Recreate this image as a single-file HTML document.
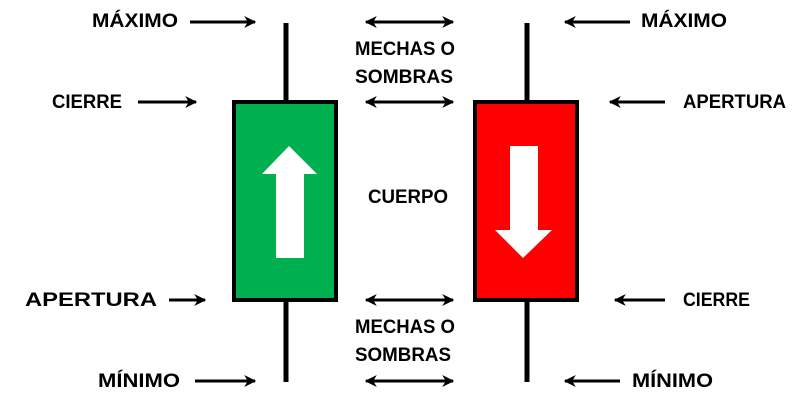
<!DOCTYPE html>
<html><head><meta charset="utf-8"><style>html,body{margin:0;padding:0;background:#fff}svg{display:block}</style></head>
<body>
<svg width="794" height="404" viewBox="0 0 794 404" xmlns="http://www.w3.org/2000/svg">
<defs>
<marker id="a" viewBox="0 0 10 10" refX="9" refY="5" markerWidth="4" markerHeight="4" orient="auto-start-reverse" markerUnits="strokeWidth">
<path d="M0,0 L10,5 L0,10 L3,5 z" fill="#000"/></marker>
</defs>
<g stroke="#000" stroke-width="5" fill="none">
<line x1="286" y1="23" x2="286" y2="382"/>
<line x1="527" y1="23" x2="527" y2="382"/>
</g>
<rect x="234" y="102" width="102" height="198" fill="#00b050" stroke="#000" stroke-width="4"/>
<rect x="475" y="102" width="102" height="198" fill="#ff0000" stroke="#000" stroke-width="4"/>
<polygon points="289,146 317,174 304,174 304,258 276,258 276,174 262,174" fill="#fff"/>
<polygon points="510,146 538,146 538,230 552,230 523,258 495,230 510,230" fill="#fff"/>
<g stroke="#000" stroke-width="3" fill="none" marker-end="url(#a)">
<line x1="190" y1="22" x2="255" y2="22"/>
<line x1="138" y1="102" x2="196" y2="102"/>
<line x1="169" y1="300" x2="205" y2="300"/>
<line x1="195" y1="381" x2="255" y2="381"/>
<line x1="630" y1="22" x2="565" y2="22"/>
<line x1="665" y1="102" x2="610" y2="102"/>
<line x1="665" y1="300" x2="615" y2="300"/>
<line x1="620" y1="381" x2="565" y2="381"/>
</g>
<g stroke="#000" stroke-width="3" fill="none" marker-end="url(#a)" marker-start="url(#a)">
<line x1="366" y1="22" x2="453" y2="22"/>
<line x1="366" y1="102" x2="453" y2="102"/>
<line x1="366" y1="300" x2="453" y2="300"/>
<line x1="366" y1="381" x2="453" y2="381"/>
</g>
<g font-family="Liberation Sans, sans-serif" font-weight="bold" font-size="19" fill="#000">
<text x="92" y="27" textLength="86" lengthAdjust="spacingAndGlyphs">MÁXIMO</text>
<text x="52" y="108" textLength="70" lengthAdjust="spacingAndGlyphs">CIERRE</text>
<text x="25" y="306" textLength="132" lengthAdjust="spacingAndGlyphs">APERTURA</text>
<text x="98" y="387" textLength="82" lengthAdjust="spacingAndGlyphs">MÍNIMO</text>
<text x="641" y="27" textLength="86" lengthAdjust="spacingAndGlyphs">MÁXIMO</text>
<text x="683" y="108" textLength="103" lengthAdjust="spacingAndGlyphs">APERTURA</text>
<text x="683" y="306" textLength="67" lengthAdjust="spacingAndGlyphs">CIERRE</text>
<text x="632" y="387" textLength="81" lengthAdjust="spacingAndGlyphs">MÍNIMO</text>
<text x="355" y="55" textLength="100" lengthAdjust="spacingAndGlyphs">MECHAS O</text>
<text x="355" y="83" textLength="98" lengthAdjust="spacingAndGlyphs">SOMBRAS</text>
<text x="368" y="203" textLength="80" lengthAdjust="spacingAndGlyphs">CUERPO</text>
<text x="355" y="333" textLength="100" lengthAdjust="spacingAndGlyphs">MECHAS O</text>
<text x="355" y="361" textLength="96" lengthAdjust="spacingAndGlyphs">SOMBRAS</text>
</g>
</svg>
</body></html>
